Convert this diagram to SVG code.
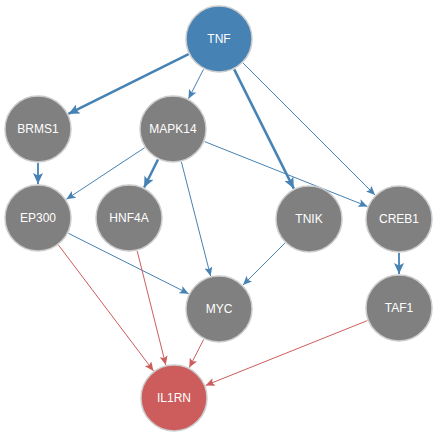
<svg xmlns="http://www.w3.org/2000/svg" width="438" height="438" viewBox="0 0 438 438">
  <style>
    .node circle { stroke: #cccccc; stroke-width: 1.5; }
    .gene circle { fill: #808080; }
    .src circle { fill: #4682b4; }
    .tgt circle { fill: #cd5c5c; }
    .node text { fill: #ffffff; font-family: "Liberation Sans", Arial, sans-serif; font-size: 12px; text-anchor: middle; dominant-baseline: central; }
    .e { fill: none; }
    .blue { stroke: #4682b4; marker-end: url(#arrowBlue); }
    .bold { stroke: #4682b4; stroke-width: 2.5; marker-end: url(#arrowBlueBold); }
    .mid { stroke: #4682b4; stroke-width: 1.8; marker-end: url(#arrowBlueBold); }
    .red { stroke: #cd5c5c; marker-end: url(#arrowRed); }
    .thin { stroke-width: 1; }
  </style>
  <defs>
    <marker id="arrowBlue" markerUnits="userSpaceOnUse" markerWidth="10" markerHeight="8" refX="9" refY="4" orient="auto">
      <path d="M0,0 L9,4 L0,8 L2,4 z" fill="#4682b4"/>
    </marker>
    <marker id="arrowBlueBold" markerUnits="userSpaceOnUse" markerWidth="12" markerHeight="10" refX="11" refY="5" orient="auto">
      <path d="M0,0 L11,5 L0,10 L2.5,5 z" fill="#4682b4"/>
    </marker>
    <marker id="arrowRed" markerUnits="userSpaceOnUse" markerWidth="10" markerHeight="8" refX="9" refY="4" orient="auto">
      <path d="M0,0 L9,4 L0,8 L2,4 z" fill="#cd5c5c"/>
    </marker>
  </defs>
  <rect width="438" height="438" fill="#ffffff"/>
  <g id="edges">
    <line class="e bold" x1="188.6" y1="54.1" x2="68.4" y2="113.9"/>
    <line class="e blue thin" x1="203.5" y1="69.3" x2="188.5" y2="98.7"/>
    <line class="e bold" x1="234.2" y1="69.4" x2="293.8" y2="188.6"/>
    <line class="e blue thin" x1="243.0" y1="63.0" x2="375.0" y2="195.0"/>
    <line class="e mid" x1="38" y1="163" x2="38" y2="184"/>
    <line class="e blue thin" x1="144.6" y1="147.7" x2="66.4" y2="199.3"/>
    <line class="e bold" x1="158.0" y1="159.5" x2="144.1" y2="187.5"/>
    <line class="e blue thin" x1="181.4" y1="161.9" x2="210.6" y2="276.1"/>
    <line class="e blue thin" x1="204.6" y1="141.6" x2="367.4" y2="206.4"/>
    <line class="e blue thin" x1="68.4" y1="233.3" x2="188.6" y2="293.7"/>
    <line class="e blue thin" x1="285.0" y1="243.0" x2="243.0" y2="285.0"/>
    <line class="e mid" x1="399" y1="253" x2="399" y2="274"/>
    <line class="e red thin" x1="58.5" y1="245.1" x2="153.5" y2="370.9"/>
    <line class="e red thin" x1="137.2" y1="251.0" x2="165.8" y2="365.0"/>
    <line class="e red thin" x1="203.7" y1="339.4" x2="189.3" y2="367.6"/>
    <line class="e red thin" x1="367.4" y1="320.6" x2="205.6" y2="385.4"/>
  </g>
  <g id="TNF" class="node src"><circle cx="219" cy="39" r="33"/><text x="219" y="39">TNF</text></g>
  <g id="BRMS1" class="node gene"><circle cx="38" cy="129" r="33"/><text x="38" y="129">BRMS1</text></g>
  <g id="MAPK14" class="node gene"><circle cx="173" cy="129" r="33"/><text x="173" y="129">MAPK14</text></g>
  <g id="EP300" class="node gene"><circle cx="38" cy="218" r="33"/><text x="38" y="218">EP300</text></g>
  <g id="HNF4A" class="node gene"><circle cx="129" cy="218" r="33"/><text x="129" y="218">HNF4A</text></g>
  <g id="TNIK" class="node gene"><circle cx="309" cy="219" r="33"/><text x="309" y="219">TNIK</text></g>
  <g id="CREB1" class="node gene"><circle cx="399" cy="219" r="33"/><text x="399" y="219">CREB1</text></g>
  <g id="MYC" class="node gene"><circle cx="219" cy="309" r="33"/><text x="219" y="309">MYC</text></g>
  <g id="TAF1" class="node gene"><circle cx="399" cy="308" r="33"/><text x="399" y="308">TAF1</text></g>
  <g id="IL1RN" class="node tgt"><circle cx="174" cy="398" r="33"/><text x="174" y="398">IL1RN</text></g>
</svg>
